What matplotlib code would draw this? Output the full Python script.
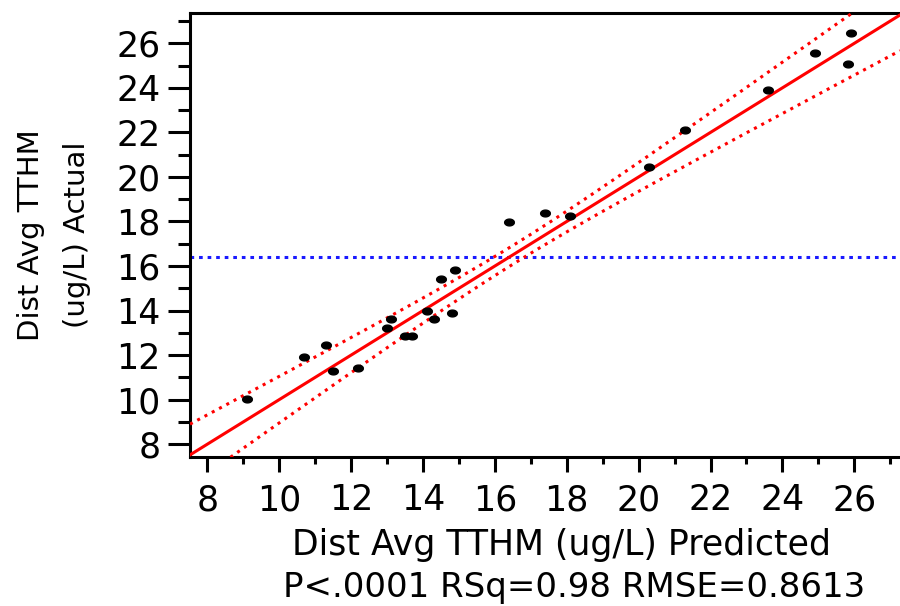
import numpy as np
import matplotlib
matplotlib.use("Agg")
import matplotlib.pyplot as plt
from matplotlib.ticker import MultipleLocator
from matplotlib.path import Path

# actual by predicted
predicted = [9.10, 10.70, 11.29, 11.51, 12.20, 13.00, 13.10, 13.50, 13.70, 14.10,
             14.31, 14.50, 14.81, 14.90, 16.40, 17.40, 18.09, 20.30, 21.30, 23.60,
             24.90, 25.81, 25.90]
actual = [10.02, 11.93, 12.46, 11.29, 11.44, 13.23, 13.61, 12.85, 12.85, 14.00,
          13.61, 15.42, 13.88, 15.81, 17.99, 18.37, 18.25, 20.43, 22.11, 23.90,
          25.58, 25.07, 26.47]
mean_actual = 16.4

# confidence curve settings (centre, half width at centre, spread)
band_center = 16.6
band_hw0 = 0.42
band_k = 0.145

tick_values = [8, 10, 12, 14, 16, 18, 20, 22, 24, 26]
xlabel = "Dist Avg TTHM (ug/L) Predicted"
ylabel = "Dist Avg TTHM\n(ug/L) Actual"
stats = "P<.0001 RSq=0.98 RMSE=0.8613"

plt.rcParams['font.family'] = ['DejaVu Sans']

fig = plt.figure(figsize=(9, 6.06), dpi=100)
ax = fig.add_axes([190/900, 1-456.7/606, 1-190/900, (456.7-13)/606])

xmin, xmax = 7.52, 27.27
ymin, ymax = 7.44, 27.36

# fit line and confidence curves
xs = np.linspace(xmin, xmax, 300)
hw = np.sqrt(band_hw0**2 + (band_k*(xs-band_center))**2)
ax.plot(xs, xs, color='#ff0000', lw=2.2, zorder=3)
ax.plot(xs, xs+hw, color='#ff0000', lw=2.2, dashes=(1, 1.7), zorder=3)
ax.plot(xs, xs-hw, color='#ff0000', lw=2.2, dashes=(1, 1.7), zorder=3)
ax.axhline(mean_actual, color='#1a1aff', lw=2.2, dashes=(1.2, 1.6), zorder=2)

# slightly wide dots
t = np.linspace(0, 2*np.pi, 30)
ell = Path(np.column_stack([np.cos(t), 0.7*np.sin(t)]))
ax.plot(predicted, actual, linestyle='none', marker=ell, markersize=7,
        color='black', zorder=4)

ax.set_xlim(xmin, xmax)
ax.set_ylim(ymin, ymax)
ax.set_xticks(tick_values)
ax.set_yticks(tick_values)
ax.xaxis.set_minor_locator(MultipleLocator(1))
ax.yaxis.set_minor_locator(MultipleLocator(1))
ax.tick_params(axis='x', which='major', length=11, width=2.2, pad=8, labelsize=25)
ax.tick_params(axis='x', which='minor', length=5, width=2.2)
ax.tick_params(axis='y', which='major', length=16, width=2.2, pad=5, labelsize=25)
ax.tick_params(axis='y', which='minor', length=8.5, width=2.2)

for s in ['left', 'bottom', 'top']:
    ax.spines[s].set_linewidth(2.2)
ax.spines['right'].set_visible(False)

fig.text(561/900, 1-555/606, xlabel, ha='center', va='baseline', fontsize=25)
fig.text(574/900, 1-597/606, stats, ha='center', va='baseline', fontsize=24.5)
fig.text(54/900, 1-235/606, ylabel, ha='center', va='center', rotation=90,
         fontsize=21, linespacing=1.8, multialignment='center')

fig.savefig("out.png", dpi=100)
